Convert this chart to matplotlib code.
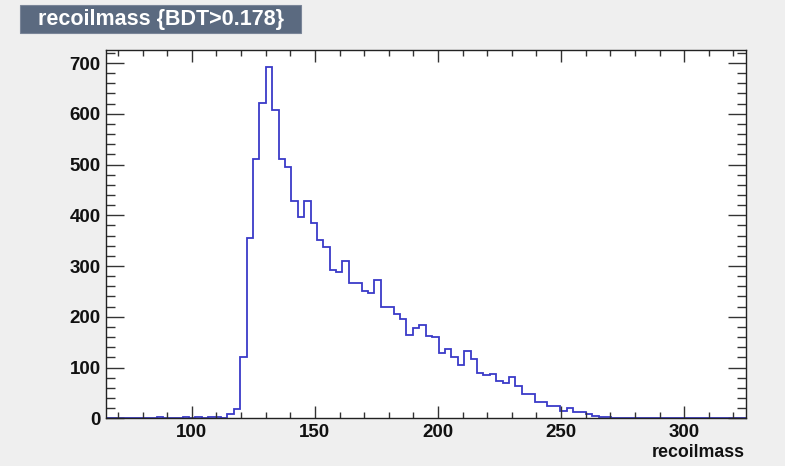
import numpy as np
import matplotlib
matplotlib.use("Agg")
import matplotlib.pyplot as plt
from matplotlib.patches import Rectangle
from matplotlib.ticker import MultipleLocator

# ---- data (100 bins, 65..325, width 2.6) ----
x_min = 65.0
x_max = 325.0
n_bins = 100
counts = [
    0, 0, 0, 0, 0, 0, 0, 0, 2, 0,          # 65.0 - 91.0
    1, 1, 2, 1, 3, 1, 2, 2, 1, 9,          # 91.0 - 117.0
    18, 120, 356, 511, 621, 692, 608, 510, 495, 429,   # 117.0 - 143.0
    397, 429, 385, 351, 338, 292, 289, 310, 266, 266,  # 143.0 - 169.0
    250, 247, 273, 219, 219, 206, 195, 165, 178, 183,  # 169.0 - 195.0
    163, 161, 128, 136, 120, 105, 133, 116, 90, 86,    # 195.0 - 221.0
    87, 74, 70, 82, 63, 48, 47, 33, 33, 24,            # 221.0 - 247.0
    24, 14, 21, 13, 13, 8, 5, 3, 2, 1,                 # 247.0 - 273.0
    1, 0, 1, 0, 0, 0, 1, 0, 0, 0,                      # 273.0 - 299.0
    1, 0, 0, 0, 0, 1, 0, 0, 0, 0,                      # 299.0 - 325.0
]
title_text = "recoilmass {BDT>0.178}"
x_title = "recoilmass"
x_ticks = [100, 150, 200, 250, 300]
y_ticks = [0, 100, 200, 300, 400, 500, 600, 700]

edges = np.linspace(x_min, x_max, n_bins + 1)
vals = np.array(counts, dtype=float)

plt.rcParams['font.family'] = ['Liberation Sans', 'DejaVu Sans']

W, H = 788, 466
fig = plt.figure(figsize=(W / 100, H / 100), dpi=100)
fig.patch.set_facecolor('#efefef')
# thin white strip on the right edge
fig.patches.append(Rectangle((785 / W, 0), 3 / W, 1, transform=fig.transFigure,
                             facecolor='white', edgecolor='none', zorder=-1))

ax = fig.add_axes([105.7 / W, (H - 418.3) / H, (745.7 - 105.7) / W, (418.3 - 49.5) / H])
ax.set_facecolor('white')

ax.stairs(vals, edges, color='#3a3ac8', lw=1.3, baseline=0)

ax.set_xlim(x_min, x_max)
ax.set_ylim(0, vals.max() * 1.05)

ax.xaxis.set_major_locator(MultipleLocator(50))
ax.xaxis.set_minor_locator(MultipleLocator(10))
ax.yaxis.set_major_locator(MultipleLocator(100))
ax.yaxis.set_minor_locator(MultipleLocator(20))
ax.set_xticks(x_ticks)
ax.set_yticks(y_ticks)

for s in ax.spines.values():
    s.set_color('#222222')
    s.set_linewidth(1.0)

ax.tick_params(axis='both', which='both', direction='in', top=True, right=True,
               colors='#333333', width=1.0)
ax.tick_params(axis='x', which='major', length=8.6, pad=4.0)
ax.tick_params(axis='x', which='minor', length=4.3)
ax.tick_params(axis='y', which='major', length=13, pad=3.5)
ax.tick_params(axis='y', which='minor', length=6.5)
for lab in ax.get_xticklabels() + ax.get_yticklabels():
    lab.set_fontweight('bold')
    lab.set_fontsize(13.5)
    lab.set_color('#111111')

fig.text(745 / W, (H - 457) / H, x_title, ha='right', va='baseline',
         fontsize=12.8, fontweight='bold', color='#111111')

# title box
fig.patches.append(Rectangle((20 / W, (H - 33.3) / H), 281 / W, 28.3 / H,
                             transform=fig.transFigure, facecolor='#5b6a80',
                             edgecolor='#7a8598', lw=0.8))
fig.text(160.5 / W, (H - 19.2) / H, title_text, ha='center', va='center',
         fontsize=15.5, fontweight='bold', color='white')

fig.savefig('out.png', dpi=100, facecolor=fig.get_facecolor())
